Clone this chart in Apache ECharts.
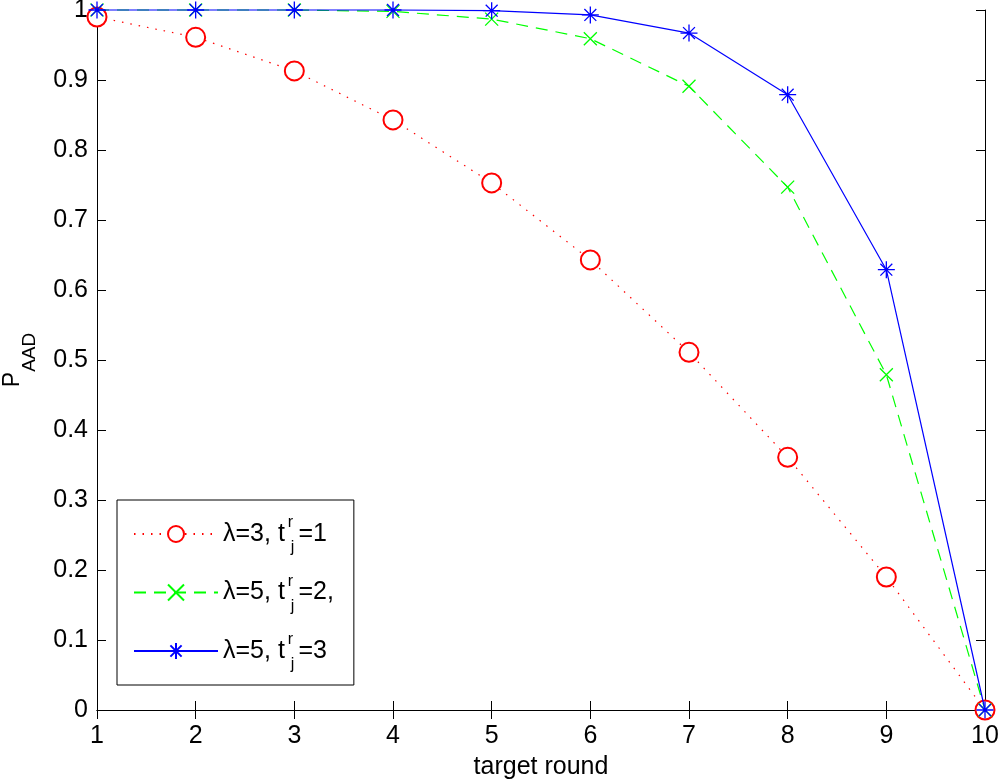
<!DOCTYPE html>
<html><head><meta charset="utf-8">
<script src="https://cdn.jsdelivr.net/npm/echarts@6/dist/echarts.min.js"></script>
<style>html,body{margin:0;padding:0;background:#fff}#c{width:1000px;height:782px}</style>
</head><body><div id="c"></div>
<script>
const rounds = [1,2,3,4,5,6,7,8,9,10];
const seriesA = [0.990,0.961,0.913,0.843,0.753,0.643,0.511,0.361,0.190,0.0];
const seriesB = [1.0,1.0,1.0,0.998,0.987,0.959,0.891,0.747,0.479,0.0];
const seriesC = [1.0,1.0,1.0,1.0,0.999,0.993,0.967,0.879,0.629,0.0];
const seriesNames = ['A','B','C'];
const legendRich = ['{a|λ=3, t}{sup|r}{sub|j}{a|=1}','{a|λ=5, t}{sup|r}{sub|j}{a|=2,}','{a|λ=5, t}{sup|r}{sub|j}{a|=3}'];
const yTicks = [0,0.1,0.2,0.3,0.4,0.5,0.6,0.7,0.8,0.9,1];

const FONT = 'Liberation Sans';
const FS = 25;
const pts = arr => rounds.map((r,i)=>[r,arr[i]]);
const crossPath = 'path://M0,0L10,10M10,0L0,10';
const starPath = 'path://M5,0L5,10M0,5L10,5M1.5,1.5L8.5,8.5M8.5,1.5L1.5,8.5';

const chart = echarts.init(document.getElementById('c'));
const axisCommon = {
  axisLine:{show:true,lineStyle:{color:'#000',width:1}},
  axisTick:{show:true,inside:true,length:9,lineStyle:{color:'#000'}},
  splitLine:{show:false}
};
chart.setOption({
  animation:false,
  backgroundColor:'#fff',
  grid:{left:97,right:15,top:10,bottom:72,containLabel:false,outerBoundsMode:'none'},
  xAxis:[
    Object.assign({type:'value',min:1,max:10,interval:1,position:'bottom',
      name:'target round',nameLocation:'middle',nameGap:45,
      nameTextStyle:{fontFamily:FONT,fontSize:FS,color:'#000'},
      axisLabel:{fontFamily:FONT,fontSize:FS,color:'#000',margin:14}},axisCommon),
    Object.assign({type:'value',min:1,max:10,interval:1,position:'top',axisLabel:{show:false}},axisCommon)
  ],
  yAxis:[
    Object.assign({type:'value',min:0,max:1,interval:0.1,position:'left',
      name:'{p|P}{s|AAD}{z| }',nameLocation:'middle',nameGap:58,
      nameTextStyle:{fontFamily:FONT,color:'#000',rich:{
        p:{fontFamily:FONT,fontSize:23,color:'#000',verticalAlign:'top',lineHeight:23},
        s:{fontFamily:FONT,fontSize:19,color:'#000',verticalAlign:'bottom',lineHeight:19},
        z:{fontFamily:FONT,fontSize:10,color:'#000',lineHeight:38,width:0}}},
      axisLabel:{fontFamily:FONT,fontSize:FS,color:'#000',margin:9,
        formatter:v=>{const t=yTicks.find(x=>Math.abs(x-v)<1e-6);return t===undefined?'':String(t);}}},axisCommon),
    Object.assign({type:'value',min:0,max:1,interval:0.1,position:'right',axisLabel:{show:false}},axisCommon)
  ],
  legend:{
    orient:'vertical',left:117,top:500,
    padding:[12,20,12,16],
    itemGap:14.5,itemWidth:84,itemHeight:20,
    backgroundColor:'#fff',borderColor:'#000',borderWidth:1,borderRadius:0,
    data:seriesNames,
    formatter:n=>legendRich[seriesNames.indexOf(n)],
    textStyle:{fontFamily:FONT,color:'#000',rich:{
      a:{fontFamily:FONT,fontSize:FS,color:'#000',lineHeight:44},
      sup:{fontFamily:FONT,fontSize:16,color:'#000',width:0,verticalAlign:'top',lineHeight:16,padding:[3,0,0,3]},
      sub:{fontFamily:FONT,fontSize:16,color:'#000',verticalAlign:'bottom',lineHeight:16,padding:[0,4,0,3]}
    }}
  },
  series:[
    {name:seriesNames[0],type:'line',data:pts(seriesA),clip:false,
     symbol:'emptyCircle',symbolSize:19,showAllSymbol:true,
     itemStyle:{color:'#ff0000',borderColor:'#ff0000',borderWidth:1.3},
     lineStyle:{color:'#ff0000',width:1.2,type:[1.5,7]},z:2},
    {name:seriesNames[1],type:'line',data:pts(seriesB),clip:false,
     symbol:crossPath,symbolSize:13,showAllSymbol:true,
     itemStyle:{color:'rgba(0,0,0,0)',borderColor:'#00ff00',borderWidth:1.3},
     lineStyle:{color:'#00ff00',width:1.2,type:[12,8]},z:3},
    {name:seriesNames[2],type:'line',data:pts(seriesC),clip:false,
     symbol:starPath,symbolSize:17,showAllSymbol:true,
     itemStyle:{color:'rgba(0,0,0,0)',borderColor:'#0000ff',borderWidth:1.3},
     lineStyle:{color:'#0000ff',width:1.2,type:'solid'},z:4}
  ]
});
</script></body></html>
